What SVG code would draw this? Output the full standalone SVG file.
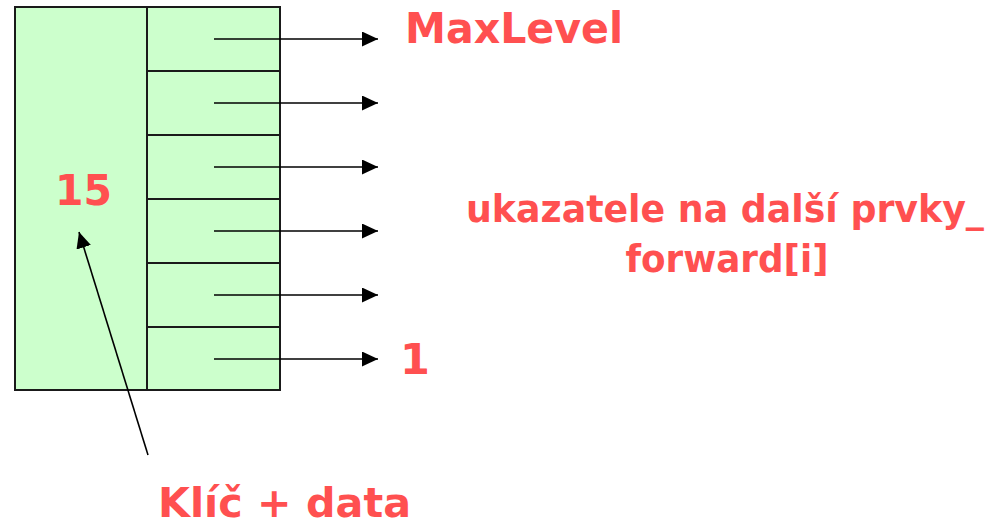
<svg xmlns="http://www.w3.org/2000/svg" width="1001" height="527" viewBox="0 0 1001 527">
<defs>
<marker id="ah" viewBox="0 0 16 15" refX="16" refY="7.5" markerWidth="16" markerHeight="15" markerUnits="userSpaceOnUse" orient="auto">
<path d="M0,0 L16,7.5 L0,15 Z" fill="#000"/>
</marker>
<style>
.box{fill:#CCFFCC;stroke:#1a1a1a;stroke-width:2}
.div{stroke:#1a1a1a;stroke-width:2;fill:none}
.ptr{stroke:#000;stroke-width:1.6;fill:none;marker-end:url(#ah)}
.lbl{fill:#FF5050;font-family:"DejaVu Sans","Verdana",sans-serif;font-weight:bold}
.cs{fill:#FF5050;font-family:"Comic Sans MS","DejaVu Sans",sans-serif;font-weight:bold}
</style>
</defs>
<g id="node">
<rect class="box" x="15" y="7" width="265" height="383"/>
<line class="div" x1="147" y1="7" x2="147" y2="390"/>
<line class="div" x1="147" y1="71" x2="280" y2="71"/>
<line class="div" x1="147" y1="135" x2="280" y2="135"/>
<line class="div" x1="147" y1="199" x2="280" y2="199"/>
<line class="div" x1="147" y1="263" x2="280" y2="263"/>
<line class="div" x1="147" y1="327" x2="280" y2="327"/>
<text class="lbl" x="55" y="205" font-size="43" textLength="57" lengthAdjust="spacingAndGlyphs">15</text>
</g>
<g id="connectors">
<line class="ptr" x1="214" y1="39" x2="378" y2="39"/>
<line class="ptr" x1="214" y1="103" x2="378" y2="103"/>
<line class="ptr" x1="214" y1="167" x2="378" y2="167"/>
<line class="ptr" x1="214" y1="231" x2="378" y2="231"/>
<line class="ptr" x1="214" y1="295" x2="378" y2="295"/>
<line class="ptr" x1="214" y1="359" x2="378" y2="359"/>
<line class="ptr" x1="148" y1="455" x2="79" y2="232"/>
</g>
<g id="labels">
<text class="lbl" x="405" y="43" font-size="43" textLength="218" lengthAdjust="spacingAndGlyphs">MaxLevel</text>
<text class="lbl" x="400" y="374" font-size="43">1</text>
<text class="lbl" x="158" y="517" font-size="40" textLength="253" lengthAdjust="spacingAndGlyphs">Klíč + data</text>
<text class="cs" x="725" y="222" font-size="37" text-anchor="middle" textLength="518" lengthAdjust="spacingAndGlyphs">ukazatele na další prvky_</text>
<text class="cs" x="727" y="272" font-size="37" text-anchor="middle" textLength="203" lengthAdjust="spacingAndGlyphs">forward[i]</text>
</g>
</svg>
